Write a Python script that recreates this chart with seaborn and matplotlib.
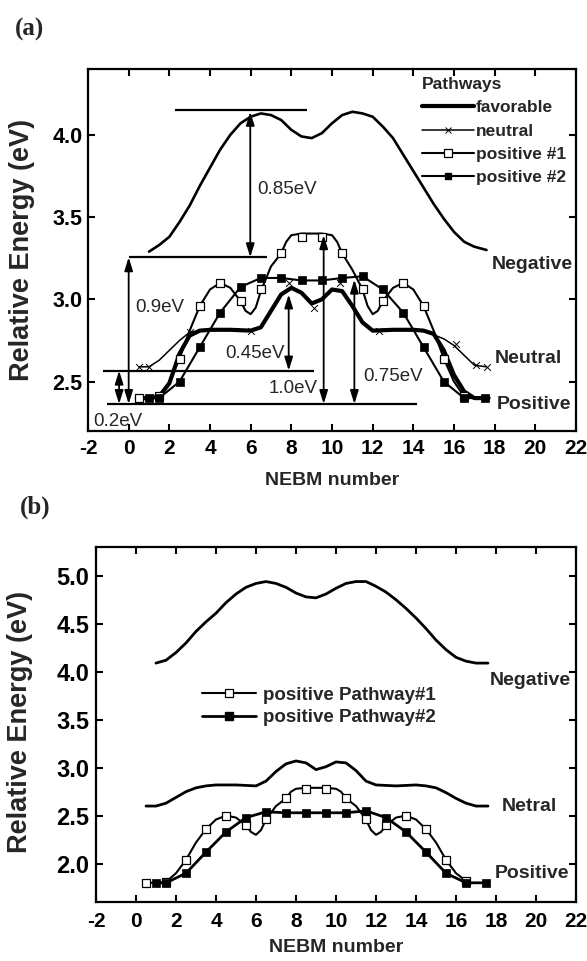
import numpy as np
import matplotlib
matplotlib.use("Agg")
import matplotlib.pyplot as plt
from matplotlib.lines import Line2D
import seaborn as sns

# ---------------- panel (a) data ----------------
neg_a_x = [1.0, 1.5, 2.0, 2.5, 3.0, 3.5, 4.0, 4.5, 5.0, 5.5, 6.0, 6.5, 7.0, 7.5, 8.0, 8.5, 9.0,
           9.5, 10.0, 10.5, 11.0, 11.5, 12.0, 12.5, 13.0, 13.5, 14.0, 14.5, 15.0, 15.5, 16.0,
           16.5, 17.0, 17.6]
neg_a_y = [3.29, 3.33, 3.38, 3.47, 3.57, 3.69, 3.80, 3.91, 4.00, 4.07, 4.11, 4.13, 4.12, 4.09,
           4.03, 3.99, 3.98, 4.01, 4.07, 4.12, 4.14, 4.13, 4.11, 4.05, 3.98, 3.88, 3.78, 3.68,
           3.58, 3.49, 3.41, 3.35, 3.32, 3.30]

neu_a_x = [0.5, 1.0, 1.5, 2.0, 2.5, 3.0, 3.5, 4.0, 5.0, 6.0, 6.5, 7.0, 7.5, 8.0, 8.5, 9.0, 9.5,
           10.0, 10.5, 11.0, 11.5, 12.0, 13.0, 14.0, 14.5, 15.0, 15.5, 16.0, 16.5, 17.0, 17.6]
neu_a_y = [2.59, 2.59, 2.63, 2.69, 2.75, 2.80, 2.81, 2.815, 2.815, 2.81, 2.83, 2.93, 3.03, 3.07,
           3.04, 2.975, 3.00, 3.06, 3.05, 2.96, 2.86, 2.81, 2.815, 2.815, 2.81, 2.785, 2.76,
           2.72, 2.66, 2.60, 2.59]
neu_a_mx = [0.5, 1.0, 3.0, 6.0, 7.9, 9.1, 10.4, 12.3, 16.1, 17.1, 17.6]
neu_a_my = [2.59, 2.59, 2.80, 2.81, 3.10, 2.95, 3.10, 2.81, 2.73, 2.60, 2.59]

fav_a_x = [0.4, 1.0, 1.5, 2.0, 2.5, 3.0, 3.5, 4.0, 5.0, 6.0, 6.5, 7.0, 7.5, 8.0, 8.5, 9.0, 9.5,
           10.0, 10.5, 11.0, 11.5, 12.0, 13.0, 14.0, 14.5, 15.0, 15.5, 16.0, 16.5, 17.0, 17.7]
fav_a_y = [2.40, 2.40, 2.41, 2.49, 2.67, 2.78, 2.81, 2.815, 2.815, 2.81, 2.83, 2.93, 3.03, 3.07,
           3.04, 2.975, 3.00, 3.06, 3.05, 2.96, 2.86, 2.81, 2.815, 2.815, 2.81, 2.79, 2.69,
           2.54, 2.44, 2.40, 2.40]

p1_a_x = [0.5, 1.0, 1.5, 2.0, 2.5, 3.0, 3.5, 4.0, 4.5, 5.0, 5.5, 5.75, 6.0, 6.25, 6.5, 7.0, 7.5,
          7.75, 8.0, 8.5, 9.0, 9.5, 10.0, 10.25, 10.5, 11.0, 11.5, 11.75, 12.0, 12.25, 12.5,
          13.0, 13.5, 14.0, 14.5, 15.0, 15.5, 16.0, 16.5]
p1_a_y = [2.40, 2.40, 2.41, 2.50, 2.64, 2.81, 2.96, 3.06, 3.10, 3.07, 2.99, 2.93, 2.91, 2.95,
          3.05, 3.20, 3.28, 3.35, 3.39, 3.40, 3.40, 3.40, 3.39, 3.35, 3.28, 3.18, 3.06, 2.96,
          2.91, 2.93, 2.99, 3.07, 3.10, 3.06, 2.96, 2.81, 2.64, 2.50, 2.41]
p1_a_mx = [0.5, 1.5, 2.5, 3.5, 4.5, 5.5, 6.5, 7.5, 8.5, 9.5, 10.5, 11.5, 12.5, 13.5, 14.5,
           15.5, 16.5]
p1_a_my = [2.40, 2.41, 2.64, 2.96, 3.10, 2.99, 3.06, 3.28, 3.38, 3.38, 3.28, 3.06, 2.99, 3.10,
           2.96, 2.64, 2.41]

p2_a_x = [1.0, 1.5, 2.5, 3.5, 4.5, 5.5, 6.5, 7.5, 8.5, 9.5, 10.5, 11.5, 12.5, 13.5, 14.5, 15.5,
          16.5, 17.5]
p2_a_y = [2.40, 2.40, 2.50, 2.71, 2.92, 3.075, 3.13, 3.13, 3.115, 3.115, 3.13, 3.14, 3.06, 2.92,
          2.71, 2.50, 2.40, 2.40]

# barrier guides in (a): level, x start, x end
guide_y = [4.15, 3.256, 2.567, 2.364]
guide_x0 = [2.29, 0.0, -1.25, -1.08]
guide_x1 = [8.77, 6.8, 9.1, 14.19]
# double arrows: x, bottom, top
arrow_x = [5.98, 0.0, -0.47, 7.87, 9.59, 11.1]
arrow_lo = [3.256, 2.364, 2.364, 2.567, 2.364, 2.364]
arrow_hi = [4.14, 3.256, 2.567, 3.03, 3.39, 3.12]
barrier_txt = ["0.85eV", "0.9eV", "0.2eV", "0.45eV", "1.0eV", "0.75eV"]
txt_x = [6.33, 0.32, -1.75, 4.75, 6.87, 11.53]
txt_y = [3.67, 2.95, 2.256, 2.67, 2.46, 2.53]

# ---------------- panel (b) data ----------------
neg_b_x = [1.0, 1.5, 2.0, 2.5, 3.0, 3.5, 4.0, 4.5, 5.0, 5.5, 6.0, 6.5, 7.0, 7.5, 8.0, 8.5, 9.0,
           9.5, 10.0, 10.5, 11.0, 11.5, 12.0, 12.5, 13.0, 13.5, 14.0, 14.5, 15.0, 15.5, 16.0,
           16.5, 17.0, 17.6]
neg_b_y = [4.09, 4.12, 4.20, 4.30, 4.42, 4.52, 4.61, 4.72, 4.81, 4.88, 4.92, 4.94, 4.92, 4.88,
           4.82, 4.78, 4.77, 4.81, 4.87, 4.92, 4.94, 4.94, 4.89, 4.83, 4.75, 4.66, 4.56, 4.45,
           4.33, 4.23, 4.15, 4.11, 4.09, 4.09]

neu_b_x = [0.5, 1.0, 1.5, 2.0, 2.5, 3.0, 3.5, 4.0, 5.0, 6.0, 6.5, 7.0, 7.5, 8.0, 8.5, 9.0, 9.5,
           10.0, 10.5, 11.0, 11.5, 12.0, 13.0, 14.0, 14.5, 15.0, 15.5, 16.0, 16.5, 17.0, 17.6]
neu_b_y = [2.60, 2.60, 2.63, 2.69, 2.75, 2.79, 2.81, 2.82, 2.82, 2.81, 2.86, 2.96, 3.04, 3.07,
           3.05, 2.98, 3.01, 3.06, 3.05, 2.97, 2.86, 2.82, 2.81, 2.82, 2.81, 2.79, 2.74, 2.68,
           2.63, 2.60, 2.60]

p1_b_x = [0.5, 1.0, 1.5, 2.0, 2.5, 3.0, 3.5, 4.0, 4.5, 5.0, 5.5, 5.75, 6.0, 6.25, 6.5, 7.0, 7.5,
          7.75, 8.0, 8.5, 9.0, 9.5, 10.0, 10.25, 10.5, 11.0, 11.5, 11.75, 12.0, 12.25, 12.5,
          13.0, 13.5, 14.0, 14.5, 15.0, 15.5, 16.0, 16.5]
p1_b_y = [1.80, 1.80, 1.81, 1.90, 2.04, 2.22, 2.36, 2.46, 2.50, 2.48, 2.40, 2.33, 2.30, 2.35,
          2.46, 2.60, 2.68, 2.75, 2.78, 2.79, 2.79, 2.79, 2.78, 2.75, 2.68, 2.60, 2.46, 2.35,
          2.30, 2.33, 2.40, 2.48, 2.50, 2.46, 2.36, 2.22, 2.04, 1.90, 1.82]
p1_b_mx = [0.5, 1.5, 2.5, 3.5, 4.5, 5.5, 6.5, 7.5, 8.5, 9.5, 10.5, 11.5, 12.5, 13.5, 14.5,
           15.5, 16.5]
p1_b_my = [1.80, 1.81, 2.04, 2.36, 2.50, 2.40, 2.47, 2.68, 2.78, 2.78, 2.68, 2.47, 2.40, 2.50,
           2.36, 2.04, 1.82]

p2_b_x = [1.0, 1.5, 2.5, 3.5, 4.5, 5.5, 6.5, 7.5, 8.5, 9.5, 10.5, 11.5, 12.5, 13.5, 14.5, 15.5,
          16.5, 17.5]
p2_b_y = [1.80, 1.80, 1.90, 2.12, 2.33, 2.48, 2.54, 2.53, 2.53, 2.53, 2.53, 2.55, 2.48, 2.33,
          2.12, 1.90, 1.80, 1.80]

state_names_a = ["Negative", "Neutral", "Positive"]
state_x_a = [19.87, 19.67, 19.95]
state_y_a = [3.21, 2.64, 2.36]
state_names_b = ["Negative", "Netral", "Positive"]
state_x_b = [19.7, 19.65, 19.8]
state_y_b = [3.91, 2.60, 1.90]

# ---------------- estilo ----------------
sns.set_theme(style="ticks")
plt.rcParams["font.family"] = ["Liberation Sans", "DejaVu Sans"]
plt.rcParams["font.weight"] = "bold"

W, H = 587, 961
fig = plt.figure(figsize=(W / 100, H / 100), dpi=100)
ax_a = fig.add_axes([88 / W, 1 - 431 / H, (576 - 88) / W, (431 - 69) / H])
ax_b = fig.add_axes([96 / W, 1 - 902 / H, (576 - 96) / W, (902 - 547) / H])


def style_axes(ax, ylim, yticks, ysize, ypad, xpad):
    ax.set_xlim(-2, 22)
    ax.set_ylim(*ylim)
    ax.set_xticks(np.arange(-2, 23, 2))
    ax.set_yticks(yticks)
    ax.set_xticklabels([str(v) for v in range(-2, 23, 2)], fontsize=15, fontweight="bold")
    ax.set_yticklabels([f"{v:.1f}" for v in yticks], fontsize=ysize, fontweight="bold")
    ax.tick_params(axis="both", direction="in", length=5, width=1.5, top=True, right=True,
                   colors="black")
    ax.tick_params(axis="x", pad=xpad)
    ax.tick_params(axis="y", pad=ypad)
    for s in ax.spines.values():
        s.set_linewidth(1.6)
        s.set_color("black")
        s.set_visible(True)
    ax.grid(False)


def open_sq(ax, x, y):
    sns.scatterplot(x=x, y=y, marker="s", s=36, facecolor="white", edgecolor="black",
                    linewidth=0.9, ax=ax, zorder=5)


def closed_sq(ax, x, y):
    sns.scatterplot(x=x, y=y, marker="s", s=28, color="black", edgecolor="black",
                    linewidth=0.5, ax=ax, zorder=5)


# ---------------- panel (a) ----------------
sns.lineplot(x=neg_a_x, y=neg_a_y, color="black", lw=1.9, sort=False, estimator=None, ax=ax_a)
sns.lineplot(x=neu_a_x, y=neu_a_y, color="black", lw=1.1, sort=False, estimator=None, ax=ax_a)
sns.scatterplot(x=neu_a_mx, y=neu_a_my, marker="x", s=24, color="black", linewidth=0.7,
                ax=ax_a, zorder=5)
sns.lineplot(x=p1_a_x, y=p1_a_y, color="black", lw=1.5, sort=False, estimator=None, ax=ax_a)
open_sq(ax_a, p1_a_mx, p1_a_my)
sns.lineplot(x=p2_a_x, y=p2_a_y, color="black", lw=1.5, sort=False, estimator=None, ax=ax_a)
closed_sq(ax_a, p2_a_x, p2_a_y)
sns.lineplot(x=fav_a_x, y=fav_a_y, color="black", lw=3.0, sort=False, estimator=None, ax=ax_a)

ax_a.hlines(guide_y, guide_x0, guide_x1, color="black", lw=1.6, zorder=6)
for x, lo, hi in zip(arrow_x, arrow_lo, arrow_hi):
    ax_a.annotate("", xy=(x, lo), xytext=(x, hi),
                  arrowprops=dict(arrowstyle="<|-|>,head_length=0.8,head_width=0.25",
                                  color="black", lw=1.3, shrinkA=0, shrinkB=0,
                                  mutation_scale=10), zorder=6)
for t, x, y in zip(barrier_txt, txt_x, txt_y):
    ax_a.text(x, y, t, fontsize=13.5, fontweight="normal", ha="left", va="center", zorder=7)
for t, x, y in zip(state_names_a, state_x_a, state_y_a):
    ax_a.text(x, y, t, fontsize=14, fontweight="bold", ha="center", va="center",
              clip_on=False)

style_axes(ax_a, (2.2, 4.4), [2.5, 3.0, 3.5, 4.0], 15.5, 4, 6)
ax_a.set_xlabel("NEBM number", fontsize=14, fontweight="bold")
ax_a.set_ylabel("Relative Energy (eV)", fontsize=19.5, fontweight="bold")
ax_a.xaxis.set_label_coords(0.5, -0.112)
ax_a.yaxis.set_label_coords(-0.109, 0.5)

handles_a = [
    Line2D([], [], color="black", lw=3.0),
    Line2D([], [], color="black", lw=1.1, marker="x", markersize=5, mew=0.7),
    Line2D([], [], color="black", lw=1.5, marker="s", markersize=5.5, mfc="white", mec="black",
           mew=0.9),
    Line2D([], [], color="black", lw=1.5, marker="s", markersize=5, mfc="black", mec="black"),
]
leg_a = ax_a.legend(handles_a, ["favorable", "neutral", "positive #1", "positive #2"],
                    title="Pathways", loc="upper left", bbox_to_anchor=(0.684, 0.977),
                    frameon=False, borderpad=0, borderaxespad=0, handlelength=3.0,
                    handletextpad=0.1, labelspacing=0.46, numpoints=1, alignment="left",
                    prop={"size": 12.5, "weight": "bold"},
                    title_fontproperties={"size": 12.5, "weight": "bold"})

# ---------------- panel (b) ----------------
sns.lineplot(x=neg_b_x, y=neg_b_y, color="black", lw=2.0, sort=False, estimator=None, ax=ax_b)
sns.lineplot(x=neu_b_x, y=neu_b_y, color="black", lw=2.0, sort=False, estimator=None, ax=ax_b)
sns.lineplot(x=p1_b_x, y=p1_b_y, color="black", lw=1.5, sort=False, estimator=None, ax=ax_b)
open_sq(ax_b, p1_b_mx, p1_b_my)
sns.lineplot(x=p2_b_x, y=p2_b_y, color="black", lw=2.0, sort=False, estimator=None, ax=ax_b)
closed_sq(ax_b, p2_b_x, p2_b_y)
for t, x, y in zip(state_names_b, state_x_b, state_y_b):
    ax_b.text(x, y, t, fontsize=14, fontweight="bold", ha="center", va="center",
              clip_on=False)

style_axes(ax_b, (1.6, 5.3), [2.0, 2.5, 3.0, 3.5, 4.0, 4.5, 5.0], 17, 5, 7)
ax_b.set_xlabel("NEBM number", fontsize=14, fontweight="bold")
ax_b.set_ylabel("Relative Energy (eV)", fontsize=19.5, fontweight="bold")
ax_b.xaxis.set_label_coords(0.5, -0.105)
ax_b.yaxis.set_label_coords(-0.131, 0.507)

handles_b = [
    Line2D([], [], color="black", lw=1.5, marker="s", markersize=6, mfc="white", mec="black",
           mew=0.9),
    Line2D([], [], color="black", lw=2.0, marker="s", markersize=5.3, mfc="black", mec="black"),
]
ax_b.legend(handles_b, ["positive Pathway#1", "positive Pathway#2"], loc="upper left",
            bbox_to_anchor=(0.221, 0.607), frameon=False, borderpad=0, borderaxespad=0,
            handlelength=2.9, handletextpad=0.35, labelspacing=0.3, numpoints=1,
            prop={"size": 13.5, "weight": "bold"})

# etiquetas de panel
fig.text(30 / W, 1 - 29 / H, "(a)", fontsize=18, fontweight="bold",
         family=["Liberation Serif", "DejaVu Serif"], ha="center", va="center")
fig.text(35 / W, 1 - 507 / H, "(b)", fontsize=18, fontweight="bold",
         family=["Liberation Serif", "DejaVu Serif"], ha="center", va="center")

fig.savefig("out.png", dpi=100)
